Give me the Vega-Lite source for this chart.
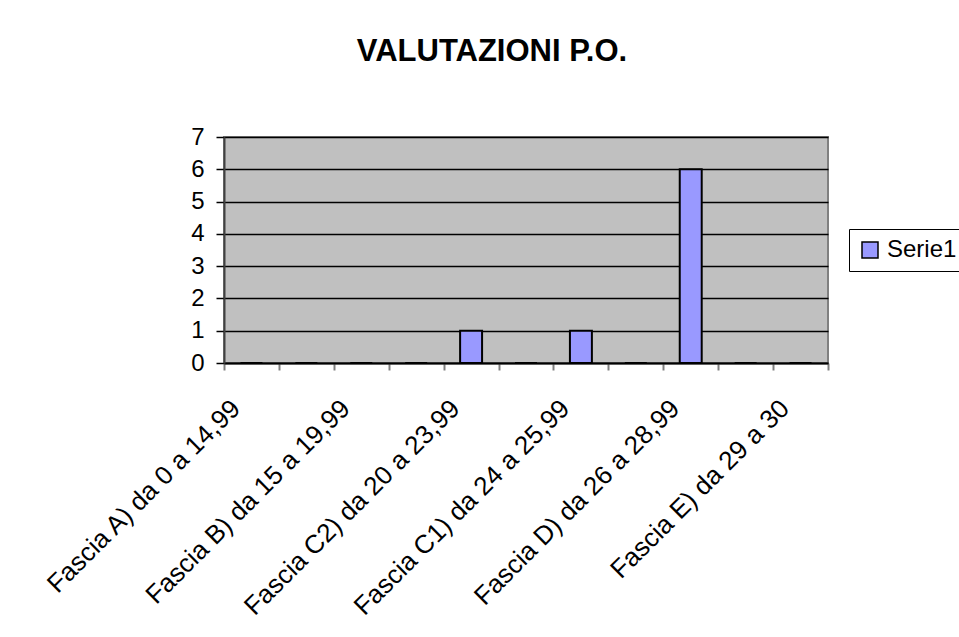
{
  "$schema": "https://vega.github.io/schema/vega-lite/v6.json",
  "autosize": "none",
  "width": 604,
  "height": 226,
  "padding": {"left": 224, "top": 137, "right": 131, "bottom": 274},
  "background": "white",
  "title": {
    "text": "VALUTAZIONI P.O.",
    "fontSize": 31,
    "fontWeight": "bold",
    "font": "Liberation Sans",
    "color": "black",
    "anchor": "middle",
    "dx": -34,
    "offset": 57
  },
  "data": {
    "values": [
      {"fascia": "Fascia A) da 0  a 14,99", "valore": 0, "serie": "Serie1"},
      {"fascia": " ", "valore": 0, "serie": "Serie1"},
      {"fascia": "Fascia B) da 15 a 19,99", "valore": 0, "serie": "Serie1"},
      {"fascia": "  ", "valore": 0, "serie": "Serie1"},
      {"fascia": "Fascia C2) da 20 a 23,99", "valore": 1, "serie": "Serie1"},
      {"fascia": "   ", "valore": 0, "serie": "Serie1"},
      {"fascia": "Fascia C1) da 24 a 25,99", "valore": 1, "serie": "Serie1"},
      {"fascia": "    ", "valore": 0, "serie": "Serie1"},
      {"fascia": "Fascia D) da 26 a 28,99", "valore": 6, "serie": "Serie1"},
      {"fascia": "     ", "valore": 0, "serie": "Serie1"},
      {"fascia": "Fascia E) da 29 a 30", "valore": 0, "serie": "Serie1"}
    ]
  },
  "mark": {"type": "bar", "width": {"band": 0.4}, "stroke": "black", "strokeWidth": 2},
  "encoding": {
    "x": {
      "field": "fascia",
      "type": "nominal",
      "sort": null,
      "scale": {"paddingInner": 0, "paddingOuter": 0},
      "axis": {
        "title": null,
        "tickBand": "extent",
        "labelAngle": -45,
        "labelAlign": "right",
        "labelBaseline": "middle",
        "labelFontSize": 26,
        "labelFont": "Liberation Sans",
        "labelColor": "black",
        "labelPadding": 34,
        "labelOffset": -16,
        "labelOverlap": false,
        "labelLimit": 0,
        "tickSize": 7,
        "tickColor": "#808080",
        "tickWidth": 2,
        "domainColor": "black",
        "domainWidth": 2,
        "grid": false
      }
    },
    "y": {
      "field": "valore",
      "type": "quantitative",
      "scale": {"domain": [0, 7], "nice": false},
      "axis": {
        "title": null,
        "values": [0, 1, 2, 3, 4, 5, 6, 7],
        "labelFontSize": 24,
        "labelFont": "Liberation Sans",
        "labelColor": "black",
        "labelPadding": 12,
        "tickSize": 8,
        "tickColor": "black",
        "tickWidth": 1.5,
        "domainColor": "#404040",
        "domainWidth": 2,
        "grid": true,
        "gridColor": "black",
        "gridWidth": 1.5,
        "gridOpacity": 1
      }
    },
    "color": {
      "field": "serie",
      "type": "nominal",
      "scale": {"range": ["#9999FF"]},
      "legend": {
        "title": null,
        "orient": "none",
        "legendX": 625,
        "legendY": 92,
        "symbolType": "square",
        "symbolSize": 256,
        "symbolStrokeColor": "black",
        "symbolStrokeWidth": 1.5,
        "symbolOpacity": 1,
        "labelFontSize": 24,
        "labelFont": "Liberation Sans",
        "labelColor": "black",
        "labelOffset": 5,
        "padding": 9,
        "strokeColor": "black"
      }
    }
  },
  "config": {
    "view": {"fill": "#C0C0C0", "stroke": "#808080", "strokeWidth": 2}
  }
}
